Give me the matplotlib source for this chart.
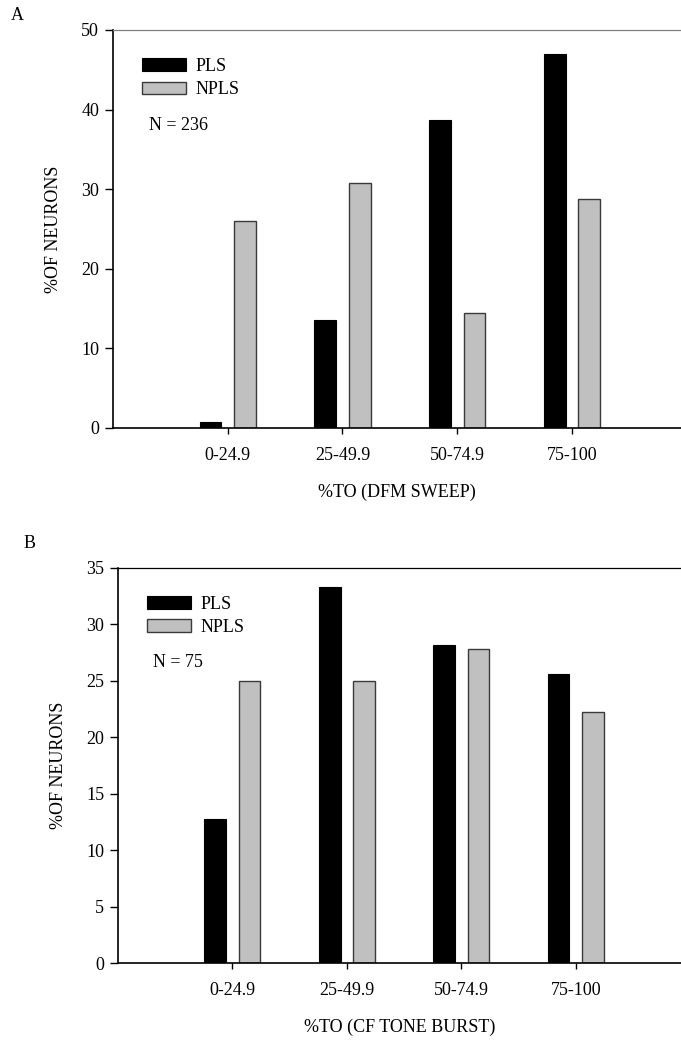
import matplotlib
matplotlib.use("Agg")
import matplotlib.pyplot as plt
import numpy as np

categories = ["0-24.9", "25-49.9", "50-74.9", "75-100"]

# panel A: DFM sweep (N = 236)
pls_a = [0.75, 13.6, 38.7, 47.0]
npls_a = [26.0, 30.8, 14.4, 28.8]

# panel B: CF tone burst (N = 75)
pls_b = [12.8, 33.3, 28.2, 25.6]
npls_b = [25.0, 25.0, 27.8, 22.2]

plt.rcParams['font.family'] = ['Liberation Serif', 'DejaVu Serif']
plt.rcParams['font.size'] = 13

fig = plt.figure(figsize=(6.81, 10.40), dpi=100)

ax_a = fig.add_axes([113 / 681, 612 / 1040, 568 / 681, 398 / 1040])
ax_b = fig.add_axes([118 / 681, 77 / 1040, 563 / 681, 395 / 1040])

x = np.arange(1, len(categories) + 1)
w = 0.19
off = 0.15


def panel(ax, pls, npls, ymax, ystep, xmax, xlabel, ntext, top_color):
    ax.bar(x - off, pls, w, color="black", edgecolor="black", linewidth=0.8, label="PLS")
    ax.bar(x + off, npls, w, color="#c0c0c0", edgecolor="#3a3a3a", linewidth=1.0, label="NPLS")
    ax.set_xlim(0, xmax)
    ax.set_ylim(0, ymax)
    ax.set_yticks(np.arange(0, ymax + 0.1, ystep))
    ax.set_xticks(x)
    ax.set_xticklabels(categories)
    ax.spines['right'].set_visible(False)
    ax.spines['top'].set_color(top_color)
    ax.spines['top'].set_linewidth(0.9)
    ax.spines['left'].set_linewidth(1.2)
    ax.spines['bottom'].set_linewidth(1.2)
    ax.tick_params(axis='y', direction='out', length=6, width=1, pad=4)
    ax.tick_params(axis='x', direction='out', length=4, width=1, pad=10)
    ax.set_ylabel("%OF NEURONS")
    ax.yaxis.set_label_coords(-0.09, 0.5)
    ax.set_xlabel(xlabel)
    ax.xaxis.set_label_coords(0.5, -0.14)
    ax.legend(loc='upper left', bbox_to_anchor=(0.039, 0.948), frameon=False,
              handlelength=2.4, handleheight=0.7, labelspacing=0.35,
              handletextpad=0.55, borderaxespad=0)
    ax.text(0.063, 0.76, ntext, transform=ax.transAxes, va='center', ha='left')


panel(ax_a, pls_a, npls_a, 50, 10, 4.95, "%TO (DFM SWEEP)", "N = 236", "#808080")
panel(ax_b, pls_b, npls_b, 35, 5, 4.92, "%TO (CF TONE BURST)", "N = 75", "black")

fig.text(17 / 681, 1 - 15 / 1040, "A", ha='center', va='center')
fig.text(30 / 681, 1 - 543 / 1040, "B", ha='center', va='center')

fig.savefig("out.png", dpi=100)
